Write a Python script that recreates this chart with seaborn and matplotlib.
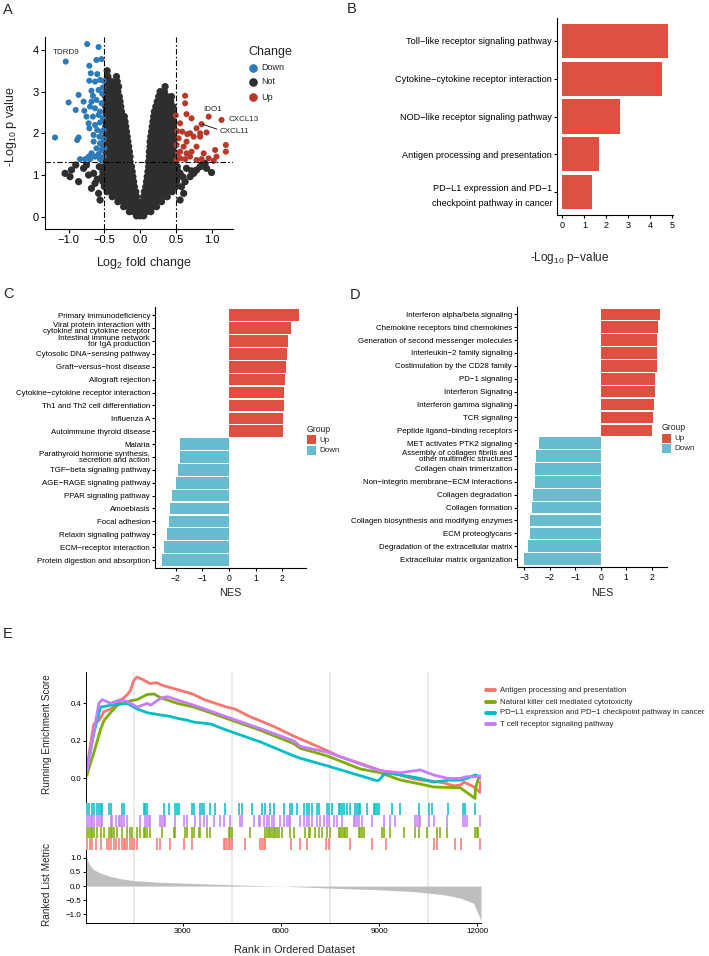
import numpy as np
import pandas as pd
import matplotlib
matplotlib.use("Agg")
import matplotlib.pyplot as plt
from matplotlib.lines import Line2D
from matplotlib.patches import Rectangle
import seaborn as sns

sns.set_theme(style="white")
plt.rcParams['font.family'] = ['Liberation Sans', 'DejaVu Sans']
plt.rcParams['mathtext.fontset'] = 'custom'
plt.rcParams['mathtext.rm'] = 'Liberation Sans'
plt.rcParams['mathtext.it'] = 'Liberation Sans:italic'
plt.rcParams['axes.unicode_minus'] = True

# ---------------- DATA ----------------
# Panel A: volcano (log2FC, -log10 p)
down_pts = [(-0.74, 4.14), (-0.58, 4.07), (-1.04, 3.72), (-0.61, 3.76), (-0.54, 3.78), (-0.71, 3.62),
            (-0.69, 3.44), (-0.60, 3.42), (-0.56, 3.28), (-0.71, 3.26), (-0.63, 3.24), (-0.51, 3.26),
            (-0.68, 3.02), (-0.58, 3.04), (-0.86, 2.92), (-1.00, 2.74), (-0.79, 2.76), (-0.68, 2.76),
            (-0.61, 2.80), (-0.54, 2.72), (-0.90, 2.56), (-0.78, 2.54), (-0.70, 2.64), (-0.63, 2.60),
            (-0.56, 2.52), (-0.75, 2.40), (-0.66, 2.40), (-0.58, 2.44), (-0.52, 2.36), (-0.72, 2.24),
            (-0.63, 2.20), (-0.56, 2.26), (-0.71, 2.12), (-0.60, 2.08), (-0.54, 2.04), (-1.19, 1.90),
            (-0.86, 1.90), (-0.88, 1.84), (-0.65, 1.96), (-0.57, 1.92), (-0.51, 1.86), (-0.65, 1.80),
            (-0.56, 1.76), (-0.61, 1.64), (-0.54, 1.60), (-0.68, 1.52), (-0.58, 1.50), (-0.72, 1.44),
            (-0.63, 1.44), (-0.84, 1.38), (-0.77, 1.38), (-0.70, 1.38), (-0.56, 1.38), (-0.51, 1.44),
            (-0.50, 1.64), (-0.51, 2.08), (-0.53, 2.95), (-0.52, 3.10), (-0.66, 2.90), (-0.53, 1.72)]
up_pts = [(0.63, 2.90), (0.63, 2.72), (0.65, 2.46), (0.50, 2.43), (0.72, 2.36), (0.96, 2.40),
          (1.14, 2.32), (0.86, 2.22), (0.56, 2.24), (0.79, 2.12), (0.59, 2.04), (0.70, 2.00),
          (0.84, 2.00), (0.93, 2.02), (0.75, 1.92), (0.84, 1.92), (0.54, 1.88), (0.65, 1.80),
          (0.79, 1.68), (0.61, 1.68), (0.51, 1.72), (1.20, 1.72), (0.56, 1.56), (0.65, 1.52),
          (0.72, 1.56), (0.89, 1.52), (1.05, 1.60), (1.20, 1.56), (0.56, 1.40), (0.63, 1.38),
          (0.70, 1.44), (0.79, 1.36), (0.96, 1.40), (1.07, 1.44), (1.03, 1.34), (0.51, 1.36),
          (0.86, 1.38), (0.52, 2.05), (0.53, 1.52), (0.66, 1.98)]
not_rows = [
    (0.02, [-0.05, 0.0, 0.05]),
    (0.12, [-0.15, -0.09, -0.03, 0.03, 0.09, 0.15]),
    (0.24, [-0.23, -0.16, -0.09, -0.02, 0.04, 0.10, 0.17, 0.23]),
    (0.36, [-0.31, -0.24, -0.17, -0.10, -0.04, 0.03, 0.09, 0.16, 0.23, 0.30]),
    (0.48, [-0.39, -0.32, -0.25, -0.18, -0.11, -0.05, 0.05, 0.11, 0.18, 0.25, 0.32, 0.38]),
    (0.60, [-0.46, -0.39, -0.32, -0.25, -0.18, -0.11, -0.06, 0.06, 0.11, 0.18, 0.25, 0.32, 0.39, 0.45]),
    (0.72, [-0.50, -0.43, -0.36, -0.29, -0.22, -0.15, -0.08, 0.08, 0.15, 0.22, 0.29, 0.36, 0.43, 0.50]),
    (0.84, [-0.52, -0.45, -0.38, -0.31, -0.24, -0.17, -0.09, 0.09, 0.16, 0.23, 0.30, 0.37, 0.44, 0.51]),
    (0.96, [-0.53, -0.46, -0.39, -0.32, -0.25, -0.18, -0.10, 0.10, 0.17, 0.24, 0.31, 0.38, 0.45, 0.52]),
    (1.08, [-0.52, -0.45, -0.38, -0.31, -0.24, -0.17, -0.11, 0.11, 0.18, 0.25, 0.32, 0.39, 0.46, 0.53]),
    (1.20, [-0.50, -0.43, -0.36, -0.29, -0.22, -0.16, -0.12, 0.12, 0.18, 0.25, 0.32, 0.39, 0.46, 0.52]),
    (1.32, [-0.48, -0.41, -0.34, -0.27, -0.20, -0.14, 0.12, 0.19, 0.26, 0.33, 0.40, 0.47]),
    (1.44, [-0.48, -0.41, -0.34, -0.27, -0.20, -0.14, 0.13, 0.20, 0.27, 0.34, 0.41, 0.47]),
    (1.56, [-0.48, -0.41, -0.34, -0.27, -0.21, -0.15, 0.13, 0.20, 0.27, 0.34, 0.41, 0.47]),
    (1.68, [-0.48, -0.41, -0.34, -0.27, -0.21, -0.16, 0.14, 0.21, 0.28, 0.35, 0.41, 0.47]),
    (1.80, [-0.48, -0.41, -0.34, -0.28, -0.22, -0.17, 0.14, 0.21, 0.28, 0.35, 0.42, 0.47]),
    (1.92, [-0.48, -0.41, -0.34, -0.28, -0.22, -0.18, 0.15, 0.22, 0.29, 0.36, 0.42, 0.47]),
    (2.04, [-0.48, -0.41, -0.34, -0.28, -0.23, -0.19, 0.16, 0.23, 0.30, 0.37, 0.43, 0.47]),
    (2.16, [-0.48, -0.41, -0.34, -0.28, -0.23, -0.20, 0.17, 0.24, 0.31, 0.37, 0.43, 0.47]),
    (2.28, [-0.48, -0.41, -0.35, -0.29, -0.24, -0.21, 0.18, 0.25, 0.32, 0.38, 0.44, 0.47]),
    (2.40, [-0.48, -0.41, -0.35, -0.29, -0.25, -0.22, 0.19, 0.26, 0.33, 0.39, 0.45]),
    (2.52, [-0.48, -0.41, -0.35, -0.30, -0.26, 0.20, 0.27, 0.34, 0.40, 0.46]),
    (2.64, [-0.48, -0.41, -0.35, -0.30, -0.27, 0.22, 0.28, 0.35, 0.41, 0.46]),
    (2.76, [-0.48, -0.41, -0.36, -0.31, -0.28, 0.24, 0.30, 0.37, 0.43]),
    (2.88, [-0.48, -0.42, -0.37, -0.32, -0.29, 0.26, 0.32, 0.38, 0.44]),
    (3.00, [-0.47, -0.41, -0.36, -0.31, 0.28, 0.34]),
    (3.12, [-0.46, -0.40, -0.35, -0.30, 0.35]),
    (3.24, [-0.46, -0.40, -0.32]),
    (3.36, [-0.45, -0.33]),
    (3.50, [-0.46]),
]
not_extra = [(-1.05, 1.04), (-0.96, 1.12), (-0.98, 0.96), (-0.86, 0.84), (-0.79, 1.16), (-0.72, 1.00),
             (-0.65, 1.04), (-0.68, 0.68), (-0.58, 0.56), (-0.56, 0.40), (-0.63, 0.80), (-0.75, 1.24),
             (-0.90, 1.24), (-0.60, 0.90), (-0.57, 1.20), (1.00, 1.06), (0.91, 1.28), (0.84, 1.20),
             (0.79, 1.12), (0.75, 1.04), (0.70, 0.96), (0.63, 0.84), (0.58, 0.72), (0.61, 0.56),
             (0.56, 0.40), (0.65, 1.16), (0.93, 1.16), (0.56, 1.04), (0.51, 0.88), (0.60, 0.95),
             (0.87, 1.22), (0.72, 1.10)]
gene_labels = ["TDRD9", "IDO1", "CXCL13", "CXCL11"]

# Panel B
b_terms = ["Toll\u2212like receptor signaling pathway", "Cytokine\u2212cytokine receptor interaction",
           "NOD\u2212like receptor signaling pathway", "Antigen processing and presentation",
           "PD\u2212L1 expression and PD\u22121\ncheckpoint pathway in cancer"]
b_vals = [4.83, 4.56, 2.65, 1.65, 1.34]

# Panel C
c_terms = ["Primary immunodeficiency", "Viral protein interaction with\ncytokine and cytokine receptor",
           "Intestinal immune network\nfor IgA production", "Cytosolic DNA\u2212sensing pathway",
           "Graft\u2212versus\u2212host disease", "Allograft rejection",
           "Cytokine\u2212cytokine receptor interaction", "Th1 and Th2 cell differentiation",
           "Influenza A", "Autoimmune thyroid disease", "Malaria",
           "Parathyroid hormone synthesis,\nsecretion and action", "TGF\u2212beta signaling pathway",
           "AGE\u2212RAGE signaling pathway", "PPAR signaling pathway", "Amoebiasis", "Focal adhesion",
           "Relaxin signaling pathway", "ECM\u2212receptor interaction", "Protein digestion and absorption"]
c_nes = [2.64, 2.32, 2.20, 2.19, 2.15, 2.12, 2.06, 2.05, 2.04, 2.04,
         -1.83, -1.85, -1.89, -1.98, -2.13, -2.19, -2.26, -2.33, -2.43, -2.50]

# Panel D
d_terms = ["Interferon alpha/beta signaling", "Chemokine receptors bind chemokines",
           "Generation of second messenger molecules", "Interleukin\u22122 family signaling",
           "Costimulation by the CD28 family", "PD\u22121 signaling", "Interferon Signaling",
           "Interferon gamma signaling", "TCR signaling", "Peptide ligand\u2212binding receptors",
           "MET activates PTK2 signaling", "Assembly of collagen fibrils and\nother multimeric structures",
           "Collagen chain trimerization", "Non\u2212integrin membrane\u2212ECM interactions",
           "Collagen degradation", "Collagen formation", "Collagen biosynthesis and modifying enzymes",
           "ECM proteoglycans", "Degradation of the extracellular matrix", "Extracellular matrix organization"]
d_nes = [2.34, 2.24, 2.21, 2.20, 2.20, 2.12, 2.12, 2.08, 2.05, 2.03,
         -2.44, -2.53, -2.57, -2.60, -2.65, -2.71, -2.76, -2.76, -2.84, -3.01]

# Panel E: GSEA
pathways = ["Antigen processing and presentation", "Natural killer cell mediated cytotoxicity",
            "PD\u2212L1 expression and PD\u22121 checkpoint pathway in cancer", "T cell receptor signaling pathway"]
es_antigen_rank = [0, 80, 200, 285, 450, 590, 800, 1000, 1200, 1305, 1405, 1500, 1600, 1800, 2000, 2200,
                   2400, 2700, 3000, 3300, 3660, 4000, 4350, 4600, 5045, 5400, 5740, 6400, 7130, 7825,
                   8432, 9000, 9654, 10000, 10300, 10670, 11000, 11300, 11500, 11600, 11900, 12090, 12100]
es_antigen = [0.0, 0.06, 0.20, 0.29, 0.31, 0.355, 0.37, 0.40, 0.43, 0.445, 0.47, 0.52, 0.54, 0.525, 0.505,
              0.51, 0.495, 0.48, 0.465, 0.45, 0.42, 0.40, 0.38, 0.37, 0.33, 0.305, 0.28, 0.225, 0.17,
              0.115, 0.08, 0.045, 0.018, 0.0, -0.01, -0.015, -0.025, -0.04, -0.035, -0.02, -0.045,
              -0.075, -0.02]
es_nk_rank = [0, 80, 180, 285, 390, 488, 600, 794, 1000, 1305, 1610, 1915, 2120, 2325, 2833, 3342, 3850,
              4360, 5378, 6395, 6600, 7415, 8432, 9043, 9654, 10265, 10672, 11487, 11940, 11945, 11992,
              12043]
es_nk = [0.0, 0.02, 0.08, 0.137, 0.20, 0.26, 0.31, 0.35, 0.39, 0.41, 0.42, 0.447, 0.45, 0.43, 0.40, 0.38,
         0.35, 0.318, 0.256, 0.185, 0.16, 0.12, 0.05, 0.03, -0.009, -0.03, -0.046, -0.05, -0.107, -0.06,
         -0.03, 0.0]
es_pdl1_rank = [0, 80, 285, 488, 794, 1305, 1610, 1915, 2325, 2630, 2833, 3140, 3342, 3851, 4360, 5378,
                6395, 6600, 7415, 8432, 8930, 9000, 9200, 9654, 10265, 10672, 11126, 11487, 11690, 11940,
                12000, 12100]
es_pdl1 = [0.0, 0.06, 0.24, 0.38, 0.39, 0.40, 0.37, 0.35, 0.338, 0.33, 0.32, 0.31, 0.30, 0.29, 0.256,
           0.194, 0.12, 0.107, 0.067, 0.014, -0.012, -0.01, 0.03, 0.018, 0.0, -0.02, -0.01, -0.01, 0.0,
           0.018, 0.015, 0.0]
es_tcr_rank = [0, 80, 285, 438, 540, 794, 1100, 1305, 1610, 1915, 2020, 2325, 2530, 2833, 3342, 4360,
               5378, 6395, 6600, 7415, 8432, 9043, 9654, 10265, 10672, 11100, 11487, 11690, 11945, 12094,
               12110]
es_tcr = [0.0, 0.04, 0.25, 0.40, 0.42, 0.40, 0.42, 0.41, 0.38, 0.40, 0.39, 0.427, 0.436, 0.418, 0.39,
          0.327, 0.265, 0.20, 0.17, 0.14, 0.076, 0.04, 0.03, 0.045, 0.018, 0.0, 0.0, 0.009, 0.009,
          0.014, 0.0]

hits_antigen = [81, 163, 234, 336, 489, 692, 743, 794, 896, 947, 1049, 1150, 1201, 1252, 1303, 1405, 1456,
                1507, 1608, 2219, 2321, 2626, 3033, 3288, 4255, 4306, 4357, 4408, 4459, 4510, 4917, 5375,
                5426, 5477, 5528, 6312, 6597, 6800, 7381, 7462, 8124, 8785, 9223, 10669, 10770, 11330,
                11514, 12094]
hits_nk = [81, 132, 183, 234, 285, 387, 489, 590, 743, 794, 845, 896, 998, 1150, 1303, 1405, 1456, 1608,
           1710, 1812, 1863, 1914, 2016, 2372, 2728, 2779, 3085, 3136, 3288, 3339, 3492, 3543, 3746, 3848,
           4408, 4459, 4510, 5070, 5528, 5579, 5630, 5680, 5731, 5782, 5833, 5884, 5935, 6037, 6291, 6393,
           6749, 6851, 6902, 7055, 7157, 7258, 7411, 7513, 7767, 7818, 7869, 7920, 7971, 8022, 8378, 8429,
           8480, 8531, 9091, 9142, 9345, 9752, 10109, 10211, 10465, 10770, 10872, 11076, 11941, 11992,
           12043]
hits_pdl1 = [81, 132, 234, 285, 387, 438, 489, 540, 743, 794, 1150, 1201, 1812, 1863, 1914, 2423, 2576,
             2779, 2830, 2881, 3288, 3339, 3543, 3594, 3644, 3848, 4001, 4306, 4713, 4815, 5120, 5426,
             5528, 5680, 5782, 6088, 6291, 6342, 6495, 6698, 6800, 6851, 6953, 7106, 7157, 7411, 7462,
             7564, 7767, 7818, 7869, 7920, 8022, 8124, 8276, 8327, 8378, 8429, 8633, 8836, 8887, 8938,
             8989, 9396, 9651, 10211, 10516, 10618, 11126, 11585, 11636, 11941]
hits_tcr = [81, 132, 183, 234, 285, 387, 438, 489, 540, 794, 845, 947, 1049, 1099, 1150, 1201, 1303, 1710,
            1863, 1914, 1965, 2016, 2321, 2372, 2423, 2474, 2779, 3033, 3135, 3390, 3543, 3644, 3746, 3950,
            4153, 4255, 4459, 4764, 4815, 5171, 5324, 5375, 5477, 5579, 5630, 5731, 5782, 5986, 6088, 6189,
            6240, 6291, 6597, 6698, 6800, 6851, 6953, 7106, 7207, 7309, 7411, 7462, 7615, 7716, 7869, 8225,
            8276, 8327, 8378, 8480, 8785, 9142, 9345, 9498, 10109, 10160, 10211, 10262, 10516, 10669, 11076,
            11585, 11636, 11687, 12094]

metric_rank = [0, 40, 80, 150, 285, 500, 794, 1100, 1507, 2200, 3000, 4500, 6000, 7500, 9000, 10000,
               10470, 11000, 11480, 11890, 12070, 12120]
metric_val = [1.30, 1.10, 0.95, 0.75, 0.57, 0.45, 0.34, 0.26, 0.19, 0.14, 0.105, 0.045, 0.0, -0.07,
              -0.13, -0.19, -0.24, -0.31, -0.42, -0.60, -1.07, -1.25]

# ---------------- STYLE ----------------
W, H = 709, 956
fig = plt.figure(figsize=(W / 100, H / 100), dpi=100)
fig.patch.set_facecolor("white")


def add_ax(l, t, r, b):
    return fig.add_axes([l / W, 1 - b / H, (r - l) / W, (b - t) / H])


def ftext(x, y, s, **kw):
    return fig.text(x / W, 1 - y / H, s, **kw)


def style_axes(ax, lw=0.8):
    for s in ["top", "right"]:
        ax.spines[s].set_visible(False)
    for s in ["left", "bottom"]:
        ax.spines[s].set_color("black")
        ax.spines[s].set_linewidth(lw)
    ax.tick_params(axis="both", which="both", direction="out", length=2.5, width=lw, color="black",
                   labelcolor="black", pad=1.5, left=True, bottom=True)
    ax.set_facecolor("none")
    ax.grid(False)


def minus(v, fmt):
    return (fmt % v).replace("-", "\u2212")


C_DOWN, C_NOT, C_UP = "#2B7BBA", "#2E2E2E", "#B8392B"
BAR_RED, BAR_BLUE = "#DE5140", "#68BCD0"
E_COLS = ["#F8766D", "#7CAE00", "#00BFC4", "#C77CFF"]

# ---------------- PANEL A ----------------
axA = add_ax(45, 37, 233, 229)
nx, ny = [], []
for yv, xs in not_rows:
    for xv in xs:
        nx.append(xv)
        ny.append(yv)
for xv, yv in not_extra:
    nx.append(xv)
    ny.append(yv)
vol = pd.concat([
    pd.DataFrame({"log2fc": nx, "nlogp": ny, "Change": "Not"}),
    pd.DataFrame({"log2fc": [p[0] for p in down_pts], "nlogp": [p[1] for p in down_pts], "Change": "Down"}),
    pd.DataFrame({"log2fc": [p[0] for p in up_pts], "nlogp": [p[1] for p in up_pts], "Change": "Up"}),
], ignore_index=True)
sns.scatterplot(data=vol, x="log2fc", y="nlogp", hue="Change", hue_order=["Not", "Down", "Up"],
                palette={"Down": C_DOWN, "Not": C_NOT, "Up": C_UP},
                size="Change", sizes={"Not": 27, "Down": 19, "Up": 19}, linewidth=0, alpha=1,
                ax=axA, legend=False, zorder=2)
dash = (0, (5, 2, 1.5, 2))
axA.axvline(-0.5, color="black", lw=0.8, ls=dash, zorder=3)
axA.axvline(0.5, color="black", lw=0.8, ls=dash, zorder=3)
axA.axhline(-np.log10(0.05), color="black", lw=0.8, ls=dash, zorder=3)
axA.set_xlim(-1.33, 1.30)
axA.set_ylim(-0.295, 4.31)
style_axes(axA)
axA.set_xticks([-1.0, -0.5, 0.0, 0.5, 1.0])
axA.set_xticklabels([minus(v, "%.1f") for v in [-1.0, -0.5, 0.0, 0.5, 1.0]])
axA.set_yticks([0, 1, 2, 3, 4])
axA.tick_params(labelsize=8, length=3)
axA.set_xlabel("")
axA.set_ylabel("")
# gene labels
axA.text(-1.035, 3.94, gene_labels[0], fontsize=5.8, ha="center", va="center")
axA.text(1.01, 2.58, gene_labels[1], fontsize=5.8, ha="center", va="center")
axA.text(1.24, 2.34, gene_labels[2], fontsize=5.8, ha="left", va="center", clip_on=False)
axA.text(1.11, 2.04, gene_labels[3], fontsize=5.8, ha="left", va="center", clip_on=False)
axA.plot([0.87, 1.075], [2.22, 2.10], color="black", lw=0.6)
ftext(144, 263, "Log$_2$ fold change", fontsize=9, ha="center", va="center")
ftext(11, 127, "-Log$_{10}$ p value", fontsize=9, ha="center", va="center", rotation=90)
# legend A
ftext(248, 52, "Change", fontsize=9, ha="left", va="center")
for yy, lab, col in [(68, "Down", C_DOWN), (82, "Not", C_NOT), (97, "Up", C_UP)]:
    fig.add_artist(Line2D([253 / W], [1 - yy / H], marker="o", ms=5.2, color=col, ls="none",
                          transform=fig.transFigure))
    ftext(261, yy, lab, fontsize=6.5, ha="left", va="center")

# ---------------- PANEL B ----------------
axB = add_ax(557, 18, 673, 215)
dfB = pd.DataFrame({"term": b_terms, "val": b_vals})
sns.barplot(data=dfB, x="val", y="term", orient="h", color=BAR_RED, saturation=1, width=0.9,
            edgecolor="none", ax=axB)
axB.set_xlim(-0.25, 5.05)
axB.set_ylim(4.6, -0.6)
style_axes(axB)
axB.set_xticks([0, 1, 2, 3, 4, 5])
axB.tick_params(axis="x", labelsize=6.5)
axB.tick_params(axis="y", labelsize=6.6, length=2)
for t in axB.get_yticklabels():
    t.set_linespacing(1.8)
axB.set_xlabel("")
axB.set_ylabel("")
ftext(570, 258, "-Log$_{10}$ p\u2212value", fontsize=8.5, ha="center", va="center")


# ---------------- PANELS C & D ----------------
def nes_panel(ax, terms, vals, xlim, ylim, ticks):
    df = pd.DataFrame({"term": terms, "NES": vals,
                       "Group": ["Up" if v > 0 else "Down" for v in vals]})
    sns.barplot(data=df, x="NES", y="term", hue="Group", hue_order=["Up", "Down"],
                palette={"Up": BAR_RED, "Down": BAR_BLUE}, dodge=False, saturation=1, width=0.9,
                edgecolor="none", orient="h", legend=False, ax=ax)
    ax.set_xlim(*xlim)
    ax.set_ylim(*ylim)
    style_axes(ax)
    ax.set_xticks(ticks)
    ax.set_xticklabels([minus(v, "%d") for v in ticks])
    ax.tick_params(axis="x", labelsize=6.2)
    ax.tick_params(axis="y", labelsize=5.7, length=2)
    for t in ax.get_yticklabels():
        t.set_linespacing(0.85)
    ax.set_xlabel("")
    ax.set_ylabel("")


axC = add_ax(155, 307, 306, 568)
nes_panel(axC, c_terms, c_nes, (-2.77, 2.89), (19.62, -0.64), [-2, -1, 0, 1, 2])
axD = add_ax(517, 307, 667, 567)
nes_panel(axD, d_terms, d_nes, (-3.29, 2.60), (19.61, -0.57), [-3, -2, -1, 0, 1, 2])
ftext(230, 593, "NES", fontsize=7.8, ha="center", va="center")
ftext(602, 593, "NES", fontsize=7.8, ha="center", va="center")


def group_legend(x, y):
    ftext(x, y, "Group", fontsize=6.2, ha="left", va="center")
    for dy, lab, col in [(11, "Up", BAR_RED), (21, "Down", BAR_BLUE)]:
        fig.add_artist(Rectangle((x / W, 1 - (y + dy + 4.5) / H), 9 / W, 9 / H, facecolor=col,
                                 edgecolor="none", transform=fig.transFigure))
        ftext(x + 12, y + dy, lab, fontsize=5.8, ha="left", va="center")


group_legend(307, 429)
group_legend(662, 427)

# ---------------- PANEL E ----------------
XL = (45, 12120)
grid_x = [1500, 4500, 7500, 10500]
axES = add_ax(86, 672, 481, 802)
axT = add_ax(86, 803, 481, 850)
axM = add_ax(86, 850, 481, 923)

es_df = pd.concat([
    pd.DataFrame({"rank": es_antigen_rank, "es": es_antigen, "Description": pathways[0]}),
    pd.DataFrame({"rank": es_nk_rank, "es": es_nk, "Description": pathways[1]}),
    pd.DataFrame({"rank": es_pdl1_rank, "es": es_pdl1, "Description": pathways[2]}),
    pd.DataFrame({"rank": es_tcr_rank, "es": es_tcr, "Description": pathways[3]}),
], ignore_index=True)
for gx in grid_x:
    axES.axvline(gx, color="#E6E6E6", lw=1.2, zorder=0)
sns.lineplot(data=es_df, x="rank", y="es", hue="Description", hue_order=pathways,
             palette=dict(zip(pathways, E_COLS)), estimator=None, sort=False, lw=2.0, legend=False,
             ax=axES)
axES.set_xlim(*XL)
axES.set_ylim(-0.126, 0.567)
style_axes(axES, lw=0.7)
axES.spines["bottom"].set_visible(False)
axES.tick_params(axis="x", bottom=False, labelbottom=False)
axES.set_yticks([0.0, 0.2, 0.4])
axES.set_yticklabels(["0.0", "0.2", "0.4"])
axES.tick_params(axis="y", labelsize=5.6, length=2)
axES.set_xlabel("")
axES.set_ylabel("")

# hit ticks
for gx in grid_x:
    axT.axvline(gx, color="#E6E6E6", lw=1.2, zorder=0)
for row, (hits, col) in enumerate([(hits_pdl1, E_COLS[2]), (hits_tcr, E_COLS[3]),
                                   (hits_nk, E_COLS[1]), (hits_antigen, E_COLS[0])]):
    axT.vlines(hits, 3 - row, 4 - row, color=col, lw=1.1)
axT.set_xlim(*XL)
axT.set_ylim(0, 4)
axT.axis("off")

# ranked list metric
for gx in grid_x:
    axM.axvline(gx, color="#E6E6E6", lw=1.2, zorder=0)
axM.fill_between(metric_rank, 0, metric_val, color="#BEBEBE", lw=0, zorder=1)
axM.set_xlim(*XL)
axM.set_ylim(-1.3, 1.27)
style_axes(axM, lw=0.7)
axM.set_xticks([3000, 6000, 9000, 12000])
axM.set_yticks([1.0, 0.5, 0.0, -0.5, -1.0])
axM.set_yticklabels([minus(v, "%.1f") for v in [1.0, 0.5, 0.0, -0.5, -1.0]])
axM.tick_params(labelsize=5.8, length=2)

ftext(47, 734, "Running Enrichment Score", fontsize=7.2, ha="center", va="center", rotation=90)
ftext(47, 884, "Ranked List Metric", fontsize=7.2, ha="center", va="center", rotation=90)
ftext(295, 950, "Rank in Ordered Dataset", fontsize=7.8, ha="center", va="center")

for i, (lab, col) in enumerate(zip(pathways, E_COLS)):
    yy = [690, 702, 713, 724][i]
    fig.add_artist(Line2D([486 / W, 495 / W], [1 - yy / H, 1 - yy / H], color=col, lw=2.8,
                          transform=fig.transFigure))
    ftext(500, yy, lab, fontsize=5.6, ha="left", va="center")

# panel letters
for x, y, s in [(3, 10, "A"), (347, 9, "B"), (3, 294, "C"), (350, 295, "D"), (3, 634, "E")]:
    ftext(x, y, s, fontsize=10.5, ha="left", va="center")

fig.savefig("out.png", dpi=100)
